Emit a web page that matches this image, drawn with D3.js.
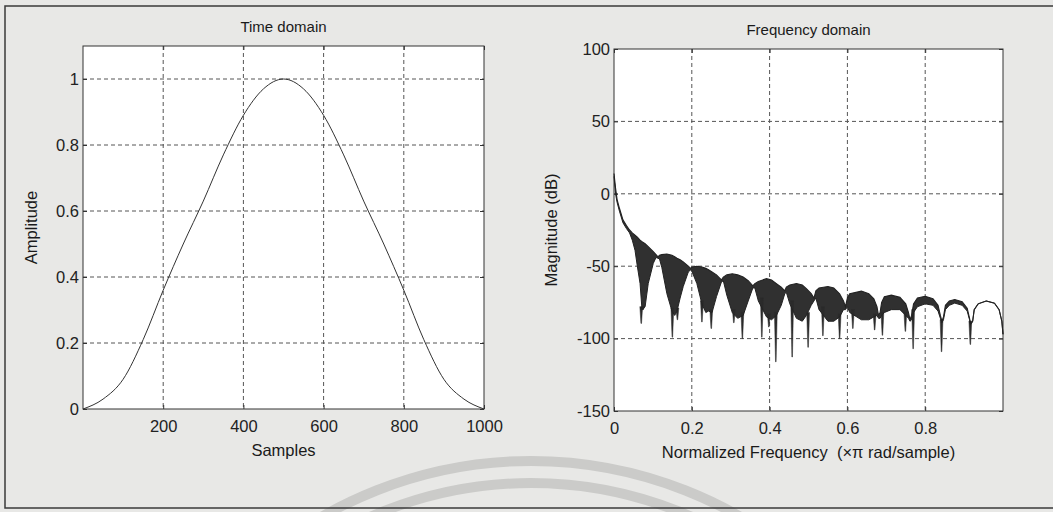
<!DOCTYPE html>
<html>
<head>
<meta charset="utf-8">
<script src="https://cdn.jsdelivr.net/npm/d3@7"></script>
<style>
  body { margin: 0; background: #e8e8e6; }
  svg { display: block; font-family: "Liberation Sans", Arial, sans-serif; }
  .grid line { stroke: #555; stroke-width: 1; stroke-dasharray: 4,3; }
  .axis text { font-size: 16.5px; fill: #222; }
  .axis line { stroke: #333; }
  .axis path { display: none; }
</style>
</head>
<body>
<script>
// Time domain: window samples and amplitude
var timeSamples = [0, 50, 100, 150, 200, 250, 300, 350, 400, 450, 500,
                   550, 600, 650, 700, 750, 800, 850, 900, 950, 1000];
var timeAmp = [0, 0.03, 0.09, 0.21, 0.36, 0.50, 0.63, 0.77, 0.89, 0.97, 1.0,
               0.97, 0.89, 0.77, 0.63, 0.50, 0.36, 0.21, 0.09, 0.03, 0];
var timeXTicks = [200, 400, 600, 800, 1000];
var timeYTicks = [0, 0.2, 0.4, 0.6, 0.8, 1];

// Frequency domain: [normalized freq, upper envelope dB, lower edge of dense fill dB]
var spectrumEnvelope = [
  [0.000, 14, 12], [0.004, 4, 0], [0.008, -4, -6], [0.014, -10, -12], [0.023, -18, -20],
  [0.032, -22, -24], [0.040, -25, -27],
  [0.047, -27, -32], [0.054, -28.5, -39], [0.060, -30, -50], [0.067, -32, -62], [0.072, -33, -80],
  [0.080, -34.5, -78], [0.088, -36.5, -62], [0.101, -40, -48], [0.108, -42, -44],
  [0.113, -43.5, -44.5],
  [0.117, -42.5, -45], [0.123, -42, -51], [0.136, -41.6, -69], [0.149, -42.5, -81], [0.156, -43.5, -84],
  [0.162, -44.5, -81], [0.170, -45.5, -72], [0.178, -47, -64], [0.191, -50, -54], [0.197, -51.5, -52.5],
  [0.201, -50.5, -54], [0.213, -50, -62], [0.226, -50.5, -76], [0.236, -51.5, -82], [0.243, -52.5, -81],
  [0.252, -54, -82], [0.2635, -56, -71], [0.276, -59.5, -61],
  [0.281, -57.5, -60], [0.290, -56, -70], [0.304, -55.2, -82], [0.318, -56, -86], [0.332, -57.5, -84],
  [0.345, -60, -74], [0.357, -63.5, -65],
  [0.362, -62, -65], [0.371, -60.5, -74], [0.392, -58.6, -85], [0.405, -59.5, -87], [0.4175, -62, -84],
  [0.430, -64.5, -77], [0.439, -67, -69],
  [0.443, -64.4, -68], [0.452, -63, -76], [0.469, -62, -86], [0.484, -63, -88], [0.4945, -65.5, -84],
  [0.507, -69, -77], [0.514, -72, -74],
  [0.519, -67, -72], [0.527, -65, -80], [0.550, -64, -88], [0.565, -65, -88], [0.580, -69, -85],
  [0.590, -74, -80], [0.595, -78, -80],
  [0.600, -72, -78], [0.606, -69, -82], [0.636, -67.2, -87], [0.655, -69, -87], [0.668, -72.5, -85],
  [0.676, -78, -84], [0.680, -84, -86],
  [0.684, -82, -86], [0.688, -75, -84], [0.695, -71, -82], [0.713, -70, -80], [0.735, -71.5, -80],
  [0.750, -76, -84], [0.757, -82, -86], [0.761, -87, -88],
  [0.765, -84, -87], [0.770, -76, -82], [0.780, -72, -78], [0.800, -70.8, -76], [0.820, -72.5, -77],
  [0.833, -77, -81], [0.839, -84, -86], [0.843, -88, -89],
  [0.847, -85, -87], [0.852, -77, -80], [0.862, -74, -77], [0.876, -73, -75.5], [0.895, -74.5, -77],
  [0.908, -79, -81], [0.914, -86, -87], [0.917, -90, -90],
  [0.922, -88, -88], [0.926, -80, -80], [0.936, -76, -76], [0.957, -74, -74], [0.978, -75.5, -75.5],
  [0.990, -80, -80], [0.997, -88, -88], [1.000, -97, -97]
];
// Narrow nulls dropping below the envelope: [freq, depth dB]
var spectrumNulls = [
  [0.070, -89.5], [0.075, -80], [0.150, -99], [0.163, -87], [0.226, -88.5], [0.250, -93],
  [0.308, -89], [0.330, -100], [0.380, -99], [0.398, -92], [0.416, -116], [0.458, -112.7],
  [0.499, -106], [0.537, -98], [0.580, -100], [0.614, -93], [0.670, -94], [0.690, -97.7],
  [0.749, -95], [0.769, -107], [0.842, -109], [0.916, -104]
];
var freqXTicks = [0, 0.2, 0.4, 0.6, 0.8];
var freqYTicks = [-150, -100, -50, 0, 50, 100];

var W = 1053, H = 512;
var svg = d3.select("body").append("svg")
    .attr("width", W)
    .attr("height", H);

// scanned-page watermark arcs
svg.append("g")
    .selectAll("circle")
    .data([420, 398])
    .enter()
    .append("circle")
    .attr("cx", 531).attr("cy", 881)
    .attr("r", function (d) { return d; })
    .attr("fill", "none")
    .attr("stroke", "#cbcbc9")
    .attr("stroke-width", 10);

// outer figure frame
svg.append("rect")
    .attr("x", 5).attr("y", 6)
    .attr("width", 1060).attr("height", 502)
    .attr("fill", "none")
    .attr("stroke", "#3a3a3a")
    .attr("stroke-width", 1.5);

function panel(box, xDomain, yDomain, xTicks, yTicks, xGrid, yGrid, title, xLabel, yLabel, yLabelOffset, titleOffset) {
    var x = d3.scaleLinear().domain(xDomain).range([box.x0, box.x1]);
    var y = d3.scaleLinear().domain(yDomain).range([box.y1, box.y0]);

    svg.append("rect")
        .attr("x", box.x0).attr("y", box.y0)
        .attr("width", box.x1 - box.x0).attr("height", box.y1 - box.y0)
        .attr("fill", "#fff");

    var grid = svg.append("g").attr("class", "grid");
    grid.selectAll(".vg").data(xGrid).enter().append("line")
        .attr("x1", function (d) { return x(d); }).attr("x2", function (d) { return x(d); })
        .attr("y1", box.y0).attr("y2", box.y1);
    grid.selectAll(".hg").data(yGrid).enter().append("line")
        .attr("y1", function (d) { return y(d); }).attr("y2", function (d) { return y(d); })
        .attr("x1", box.x0).attr("x2", box.x1);

    var fmt = function (d) { return String(d); };

    svg.append("g").attr("class", "axis")
        .attr("transform", "translate(0," + box.y1 + ")")
        .call(d3.axisBottom(x).tickValues(xTicks).tickFormat(fmt)
            .tickSizeInner(-4).tickSizeOuter(0).tickPadding(11));
    svg.append("g").attr("class", "axis")
        .attr("transform", "translate(0," + box.y0 + ")")
        .call(d3.axisTop(x).tickValues(xTicks).tickFormat("")
            .tickSizeInner(-4).tickSizeOuter(0));
    svg.append("g").attr("class", "axis")
        .attr("transform", "translate(" + box.x0 + ",0)")
        .call(d3.axisLeft(y).tickValues(yTicks).tickFormat(fmt)
            .tickSizeInner(-4).tickSizeOuter(0).tickPadding(4));
    svg.append("g").attr("class", "axis")
        .attr("transform", "translate(" + box.x1 + ",0)")
        .call(d3.axisRight(y).tickValues(yTicks).tickFormat("")
            .tickSizeInner(-4).tickSizeOuter(0));

    svg.append("rect")
        .attr("x", box.x0).attr("y", box.y0)
        .attr("width", box.x1 - box.x0).attr("height", box.y1 - box.y0)
        .attr("fill", "none")
        .attr("stroke", "#333");

    svg.append("text")
        .attr("x", (box.x0 + box.x1) / 2).attr("y", box.y0 - titleOffset)
        .attr("text-anchor", "middle")
        .style("font-size", "15px").style("fill", "#1a1a1a")
        .text(title);
    svg.append("text")
        .attr("x", (box.x0 + box.x1) / 2).attr("y", box.y1 + 47)
        .attr("text-anchor", "middle")
        .style("font-size", "16.5px").style("fill", "#1a1a1a")
        .style("white-space", "pre")
        .text(xLabel);
    svg.append("text")
        .attr("transform", "translate(" + (box.x0 - yLabelOffset) + "," + ((box.y0 + box.y1) / 2) + ") rotate(-90)")
        .attr("text-anchor", "middle")
        .style("font-size", "16.5px").style("fill", "#1a1a1a")
        .text(yLabel);

    return { x: x, y: y };
}

// Left: time domain
var tBox = { x0: 83, x1: 484, y0: 46, y1: 409 };
var t = panel(tBox, [0, 1000], [0, 1.1], timeXTicks, timeYTicks,
    [200, 400, 600, 800], [0.2, 0.4, 0.6, 0.8, 1],
    "Time domain", "Samples", "Amplitude", 46, 14);

var timeLine = d3.line()
    .curve(d3.curveMonotoneX)
    .x(function (d, i) { return t.x(timeSamples[i]); })
    .y(function (d) { return t.y(d); });

svg.append("path")
    .attr("d", timeLine(timeAmp))
    .attr("fill", "none")
    .attr("stroke", "#333")
    .attr("stroke-width", 1);

// Right: frequency domain
var fBox = { x0: 614, x1: 1003, y0: 49, y1: 411 };
var f = panel(fBox, [0, 1], [-150, 100], freqXTicks, freqYTicks,
    [0.2, 0.4, 0.6, 0.8], [-100, -50, 0, 50],
    "Frequency domain", "Normalized Frequency  (\u00d7\u03c0 rad/sample)", "Magnitude (dB)", 57, 14);

var specArea = d3.area()
    .x(function (d) { return f.x(d[0]); })
    .y0(function (d) { return f.y(d[2]); })
    .y1(function (d) { return f.y(d[1]); });

svg.append("path")
    .attr("d", specArea(spectrumEnvelope))
    .attr("fill", "#303030")
    .attr("stroke", "none");

// nulls drawn as thin tapering spikes hanging from the fill
svg.selectAll(".null")
    .data(spectrumNulls)
    .enter()
    .append("path")
    .attr("class", "null")
    .attr("d", function (d) {
        var e = d3.least(spectrumEnvelope, function (p) { return Math.abs(p[0] - d[0]); });
        var cx = f.x(d[0]), top = f.y(e[2]) - 3, tip = f.y(d[1]);
        return "M" + (cx - 1.4) + "," + top + "L" + (cx + 1.4) + "," + top + "L" + (cx + 0.3) + "," + tip + "L" + (cx - 0.3) + "," + tip + "Z";
    })
    .attr("fill", "#2a2a2a")
    .attr("stroke", "#2a2a2a")
    .attr("stroke-width", 0.5);

var topLine = d3.line()
    .x(function (d) { return f.x(d[0]); })
    .y(function (d) { return f.y(d[1]); });
var floorLine = d3.line()
    .x(function (d) { return f.x(d[0]); })
    .y(function (d) { return f.y(d[2]); });

svg.append("path")
    .attr("d", topLine(spectrumEnvelope))
    .attr("fill", "none").attr("stroke", "#222").attr("stroke-width", 1.1);
svg.append("path")
    .attr("d", floorLine(spectrumEnvelope))
    .attr("fill", "none").attr("stroke", "#222").attr("stroke-width", 1);
</script>
</body>
</html>
